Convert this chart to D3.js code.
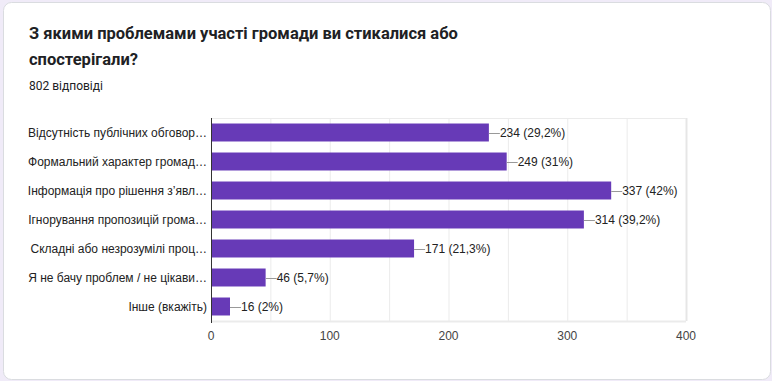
<!DOCTYPE html>
<html>
<head>
<meta charset="utf-8">
<script src="https://cdn.jsdelivr.net/npm/d3@7"></script>
<style>
  html, body { margin: 0; padding: 0; background: #f0ebf8; }
  svg { display: block; }
</style>
</head>
<body>
<svg id="chart" width="772" height="381"></svg>
<script>
const titleLines = ["З якими проблемами участі громади ви стикалися або", "спостерігали?"];
const subtitle = "802 відповіді";
const categories = [
  "Відсутність публічних обговор…",
  "Формальний характер громад…",
  "Інформація про рішення з’явл…",
  "Ігнорування пропозицій грома…",
  "Складні або незрозумілі проц…",
  "Я не бачу проблем / не цікави…",
  "Інше (вкажіть)"
];
const values = [234, 249, 337, 314, 171, 46, 16];
const percents = ["29,2%", "31%", "42%", "39,2%", "21,3%", "5,7%", "2%"];
const tickValues = [0, 100, 200, 300, 400];
const gridValues = [50, 100, 150, 200, 250, 300, 350, 400];

const svg = d3.select("#chart");

// card
svg.append("rect")
  .attr("x", 3.5).attr("y", 2.5)
  .attr("width", 767).attr("height", 377)
  .attr("rx", 8).attr("ry", 8)
  .attr("fill", "#fff").attr("stroke", "#dadce0");

// title
const title = svg.append("text")
  .attr("font-family", "Roboto, Arial, sans-serif")
  .attr("font-size", 16.5).attr("font-weight", 700)
  .attr("fill", "#202124");
titleLines.forEach((t, i) => {
  title.append("tspan").attr("x", 29).attr("y", 39 + i * 26).text(t);
});
svg.append("text")
  .attr("x", 29).attr("y", 90)
  .attr("font-family", "Roboto, Arial, sans-serif")
  .attr("font-size", 12).attr("fill", "#202124")
  .text(subtitle);

const x = d3.scaleLinear().domain([0, 400]).range([211, 686]);
const y = d3.scaleBand().domain(categories).range([118, 321]).paddingInner(0.38).paddingOuter(0.19);

const font = "Arial, 'Liberation Sans', sans-serif";

// gridlines
svg.append("g").selectAll("line").data(gridValues).join("line")
  .attr("x1", d => x(d) + 0.5).attr("x2", d => x(d) + 0.5)
  .attr("y1", 118).attr("y2", 321)
  .attr("stroke", d => d === 400 ? "#e6e6e6" : "#ebebeb")
  .attr("stroke-width", d => d === 400 ? 2 : 1);
svg.append("line")
  .attr("x1", x(0)).attr("x2", x(400))
  .attr("y1", 118.5).attr("y2", 118.5)
  .attr("stroke", "#ebebeb");
svg.append("line")
  .attr("x1", x(0)).attr("x2", x(400))
  .attr("y1", 321.5).attr("y2", 321.5)
  .attr("stroke", "#ebebeb").attr("stroke-width", 2);

// bars
svg.append("g").selectAll("rect").data(categories).join("rect")
  .attr("x", x(0))
  .attr("y", d => y(d))
  .attr("width", (d, i) => x(values[i]) - x(0))
  .attr("height", y.bandwidth())
  .attr("fill", "#673ab7");

// baseline
svg.append("line")
  .attr("x1", x(0) + 0.5).attr("x2", x(0) + 0.5)
  .attr("y1", 118).attr("y2", 323)
  .attr("stroke", "#333");

// leader lines and value labels
const lbl = svg.append("g");
categories.forEach((c, i) => {
  const cy = y(c) + y.bandwidth() / 2;
  lbl.append("line")
    .attr("x1", x(values[i])).attr("x2", x(values[i]) + 11)
    .attr("y1", Math.round(cy) + 0.5).attr("y2", Math.round(cy) + 0.5)
    .attr("stroke", "#999");
  lbl.append("text")
    .attr("x", x(values[i]) + 11).attr("y", cy).attr("dy", "0.36em")
    .attr("font-family", font).attr("font-size", 12).attr("fill", "#222")
    .text(`${values[i]} (${percents[i]})`);
});

// category axis labels
svg.append("g").selectAll("text").data(categories).join("text")
  .attr("x", 207)
  .attr("y", d => y(d) + y.bandwidth() / 2).attr("dy", "0.36em")
  .attr("text-anchor", "end")
  .attr("font-family", font).attr("font-size", 12).attr("fill", "#222")
  .text(d => d);

// x tick labels
svg.append("g").selectAll("text").data(tickValues).join("text")
  .attr("x", d => x(d)).attr("y", 340)
  .attr("text-anchor", "middle")
  .attr("font-family", font).attr("font-size", 12).attr("fill", "#444")
  .text(d => d);
</script>
</body>
</html>
